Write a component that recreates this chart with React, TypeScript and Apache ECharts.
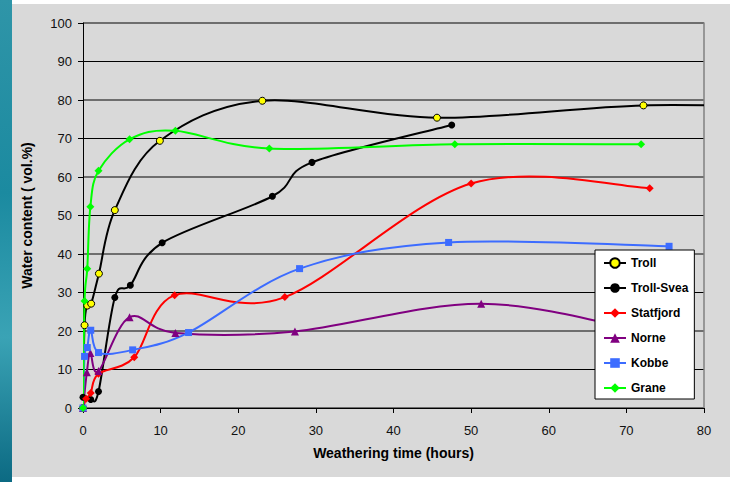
import React, { useEffect, useRef } from "react";
import * as echarts from "echarts";

const xTicks = [0, 10, 20, 30, 40, 50, 60, 70, 80];

const seriesNames = ["Troll", "Troll-Svea", "Statfjord", "Norne", "Kobbe", "Grane"];

const trollHours = [0, 0.2, 0.55, 1.05, 2.05, 4.1, 9.9, 23.1, 45.6, 72.2, 96];
const trollWater = [0, 21.5, 26.6, 27.1, 34.9, 51.4, 69.4, 79.8, 75.4, 78.6, 77.8];

const svHours = [0, 1.0, 2.0, 4.1, 6.1, 10.2, 24.4, 29.5, 47.5];
const svWater = [2.8, 2.2, 4.3, 28.7, 31.9, 42.9, 55.0, 63.8, 73.5];

const statHours = [0, 0.4, 1.0, 2.0, 6.6, 11.8, 26.0, 50.0, 73.0];
const statWater = [0, 2.4, 3.9, 8.9, 13.2, 29.3, 28.8, 58.3, 57.1];

const norneHours = [0, 0.5, 0.95, 2.0, 6.0, 11.9, 27.3, 51.3, 73.0];
const norneWater = [0, 9.3, 14.3, 9.6, 23.6, 19.5, 19.9, 27.1, 19.5];

const kobbeHours = [0, 0.2, 0.55, 1.0, 2.0, 6.4, 13.6, 27.9, 47.1, 75.5];
const kobbeWater = [0, 13.4, 15.7, 20.2, 14.4, 15.1, 19.6, 36.2, 43.0, 42.0];

const graneHours = [0, 0.2, 0.55, 0.95, 2.0, 6.0, 11.9, 24.0, 47.9, 71.9];
const graneWater = [0, 27.8, 36.2, 52.3, 61.6, 69.8, 72.0, 67.4, 68.5, 68.5];

const zip = (xs: number[], ys: number[]) => xs.map((x, i) => [x, ys[i]]);

export default function App() {
  const ref = useRef<HTMLDivElement>(null);
  useEffect(() => {
    if (!ref.current) return;
    const chart = echarts.init(ref.current, null, { renderer: "svg" });
    const font = "'Liberation Sans', Arial, sans-serif";

    const defs = [
      { name: seriesNames[0], data: zip(trollHours, trollWater), line: "#000000", fill: "#ffff00", symbol: "circle", size: 7, border: "#000000" },
      { name: seriesNames[1], data: zip(svHours, svWater), line: "#000000", fill: "#000000", symbol: "circle", size: 7 },
      { name: seriesNames[2], data: zip(statHours, statWater), line: "#ff0000", fill: "#ff0000", symbol: "diamond", size: 8 },
      { name: seriesNames[3], data: zip(norneHours, norneWater), line: "#800080", fill: "#800080", symbol: "triangle", size: 8 },
      { name: seriesNames[4], data: zip(kobbeHours, kobbeWater), line: "#3c6cff", fill: "#3c6cff", symbol: "rect", size: 7 },
      { name: seriesNames[5], data: zip(graneHours, graneWater), line: "#00ff00", fill: "#00ff00", symbol: "diamond", size: 8 },
    ];

    const curve = (d: any) => ({
      type: "custom",
      name: d.name + " curve",
      coordinateSystem: "cartesian2d",
      clip: true,
      silent: true,
      data: d.data,
      encode: { x: 0, y: 1 },
      renderItem: (params: any, api: any) => {
        const i = params.dataIndex;
        const pts: number[][] = d.data;
        if (i >= pts.length - 1) return null;
        const c = pts.map((p) => api.coord(p));
        const p0 = c[Math.max(i - 1, 0)];
        const p1 = c[i];
        const p2 = c[i + 1];
        const p3 = c[Math.min(i + 2, c.length - 1)];
        const k = 1 / 6;
        return {
          type: "bezierCurve",
          shape: {
            x1: p1[0],
            y1: p1[1],
            x2: p2[0],
            y2: p2[1],
            cpx1: p1[0] + (p2[0] - p0[0]) * k,
            cpy1: p1[1] + (p2[1] - p0[1]) * k,
            cpx2: p2[0] - (p3[0] - p1[0]) * k,
            cpy2: p2[1] - (p3[1] - p1[1]) * k,
          },
          style: { stroke: d.line, lineWidth: 2, fill: "none" },
        };
      },
    });

    const markers = (d: any) => ({
      name: d.name,
      type: "line",
      data: d.data,
      smooth: false,
      symbol: d.symbol,
      symbolSize: d.size,
      showSymbol: true,
      clip: true,
      lineStyle: { color: d.line, width: 2, opacity: 0 },
      itemStyle: d.border
        ? { color: d.fill, borderColor: d.border, borderWidth: 1 }
        : { color: d.fill, borderWidth: 0 },
      emphasis: { disabled: true },
    });

    const option: any = {
      animation: false,
      backgroundColor: "#ffffff",
      textStyle: { fontFamily: font },
      graphic: [
        {
          type: "rect",
          z: -10,
          shape: { x: 0, y: 0, width: 12, height: 482 },
          style: {
            fill: {
              type: "linear",
              x: 0,
              y: 0,
              x2: 0,
              y2: 1,
              colorStops: [
                { offset: 0, color: "#2f95a8" },
                { offset: 0.4, color: "#1b8aa0" },
                { offset: 0.7, color: "#3aa3b5" },
                { offset: 1, color: "#0c6a83" },
              ],
            },
          },
        },
        {
          type: "rect",
          z: -10,
          shape: { x: 12, y: 4, width: 718, height: 473 },
          style: { fill: "#d9d9d9" },
        },
      ],
      grid: { left: 83, right: 26, top: 23, bottom: 74 },
      xAxis: {
        type: "value",
        min: xTicks[0],
        max: xTicks[xTicks.length - 1],
        interval: 10,
        name: "Weathering time (hours)",
        nameLocation: "middle",
        nameGap: 38,
        nameTextStyle: { fontWeight: "bold", fontSize: 14, color: "#000", fontFamily: font },
        axisLine: { show: true, onZero: false, lineStyle: { color: "#000", width: 1 } },
        axisTick: { show: true, length: 5, lineStyle: { color: "#000" } },
        axisLabel: { color: "#111", fontSize: 13, margin: 16, fontFamily: font },
        splitLine: { show: false },
      },
      yAxis: [
        {
          type: "value",
          min: 0,
          max: 100,
          interval: 10,
          name: "Water content ( vol.%)",
          nameLocation: "middle",
          nameGap: 49,
          nameRotate: 90,
          nameTextStyle: { fontWeight: "bold", fontSize: 14, color: "#000", fontFamily: font },
          axisLine: { show: true, lineStyle: { color: "#000", width: 1 } },
          axisTick: { show: true, length: 5, lineStyle: { color: "#000" } },
          axisLabel: { color: "#111", fontSize: 13, margin: 11, fontFamily: font },
          splitLine: { show: true, lineStyle: { color: "#000", width: 1 } },
        },
        {
          type: "value",
          position: "right",
          min: 0,
          max: 100,
          interval: 20,
          axisLine: { show: true, lineStyle: { color: "#808080", width: 1.5 } },
          axisTick: { show: false },
          axisLabel: { show: false },
          splitLine: { show: true, lineStyle: { color: "#6e6e6e", width: 2 } },
        },
      ],
      legend: {
        orient: "vertical",
        left: 595,
        top: 250,
        backgroundColor: "#ffffff",
        borderColor: "#000",
        borderWidth: 1,
        padding: [7, 6, 5, 8],
        itemGap: 13,
        itemWidth: 22,
        itemHeight: 12,
        lineStyle: { width: 2, opacity: 1 },
        textStyle: { fontWeight: "bold", fontSize: 12, color: "#000", fontFamily: font },
        data: seriesNames,
      },
      series: [...defs.map(curve), ...defs.map(markers)],
    };
    chart.setOption(option);
    return () => chart.dispose();
  }, []);
  return (
    <div
      ref={ref}
      style={{ position: "absolute", left: 0, top: 0, width: 730, height: 482 }}
    />
  );
}
